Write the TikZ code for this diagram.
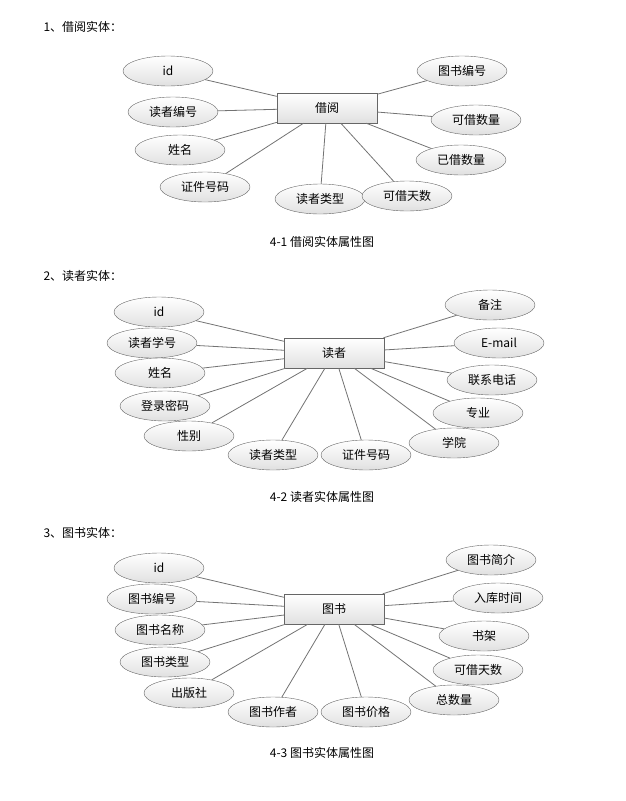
\documentclass[tikz,border=0pt]{standalone}
\usepackage{fontspec}
\setmainfont{Noto Sans CJK SC}
\usetikzlibrary{shapes.geometric}
\tikzset{
  ent/.style  = {draw=black!60, rectangle, minimum width=100pt, minimum height=30pt,
                 top color=white, bottom color=black!12, font=\fontsize{12}{14}\selectfont},
  attr/.style = {draw=black!60, ellipse, minimum width=90pt, minimum height=30pt,
                 inner sep=0pt, top color=white, bottom color=black!12,
                 font=\fontsize{12}{14}\selectfont},
  link/.style = {draw=black!55, line width=0.8pt},
  head/.style = {anchor=west, font=\fontsize{12}{14}\selectfont},
  capt/.style = {font=\fontsize{12}{14}\selectfont}
}
\begin{document}
\begin{tikzpicture}[x=1pt, y=-1pt]
	\useasboundingbox (0,0) rectangle (625,801);
	
	% 借阅
	\node[head] (t1) at (40,27) {1、借阅实体：};
	\node[ent] (jy) at (327,108) {借阅};
	\foreach \n/\x/\y/\t in {a/168/71/id, b/173/112/读者编号, c/180/150/姓名,
	    d/205/187/证件号码, e/320/199/读者类型, f/407/196/可借天数,
	    g/461/160/已借数量, h/476/120/可借数量, i/462/71/图书编号}{
	  \node[attr] (jy\n) at (\x,\y) {\t};
	  \draw[link] (jy) -- (jy\n);
	}
	\node[capt] (c1) at (322,242) {4-1 借阅实体属性图};
	
	% 读者
	\node[head] (t2) at (40,276) {2、读者实体：};
	\node[ent] (dz) at (334,353) {读者};
	\foreach \n/\x/\y/\t in {a/159/312/id, b/152/343/读者学号, c/160/373/姓名,
	    d/165/406/登录密码, e/189/436/性别, f/273/455/读者类型,
	    g/366/455/证件号码, h/454/443/学院, i/478/413/专业,
	    j/492/380/联系电话, k/499/343/E-mail, l/490/305/备注}{
	  \node[attr] (dz\n) at (\x,\y) {\t};
	  \draw[link] (dz) -- (dz\n);
	}
	\node[capt] (c2) at (322,497) {4-2 读者实体属性图};
	
	% 图书
	\node[head] (t3) at (40,533) {3、图书实体：};
	\node[ent] (ts) at (334,609) {图书};
	\foreach \n/\x/\y/\t in {a/159/568/id, b/152/599/图书编号, c/160/630/图书名称,
	    d/165/662/图书类型, e/189/693/出版社, f/273/712/图书作者,
	    g/366/712/图书价格, h/454/700/总数量, i/478/670/可借天数,
	    j/484/636/书架, k/498/598/入库时间, l/491/560/图书简介}{
	  \node[attr] (ts\n) at (\x,\y) {\t};
	  \draw[link] (ts) -- (ts\n);
	}
	\node[capt] (c3) at (322,753) {4-3 图书实体属性图};
\end{tikzpicture}
\end{document}
